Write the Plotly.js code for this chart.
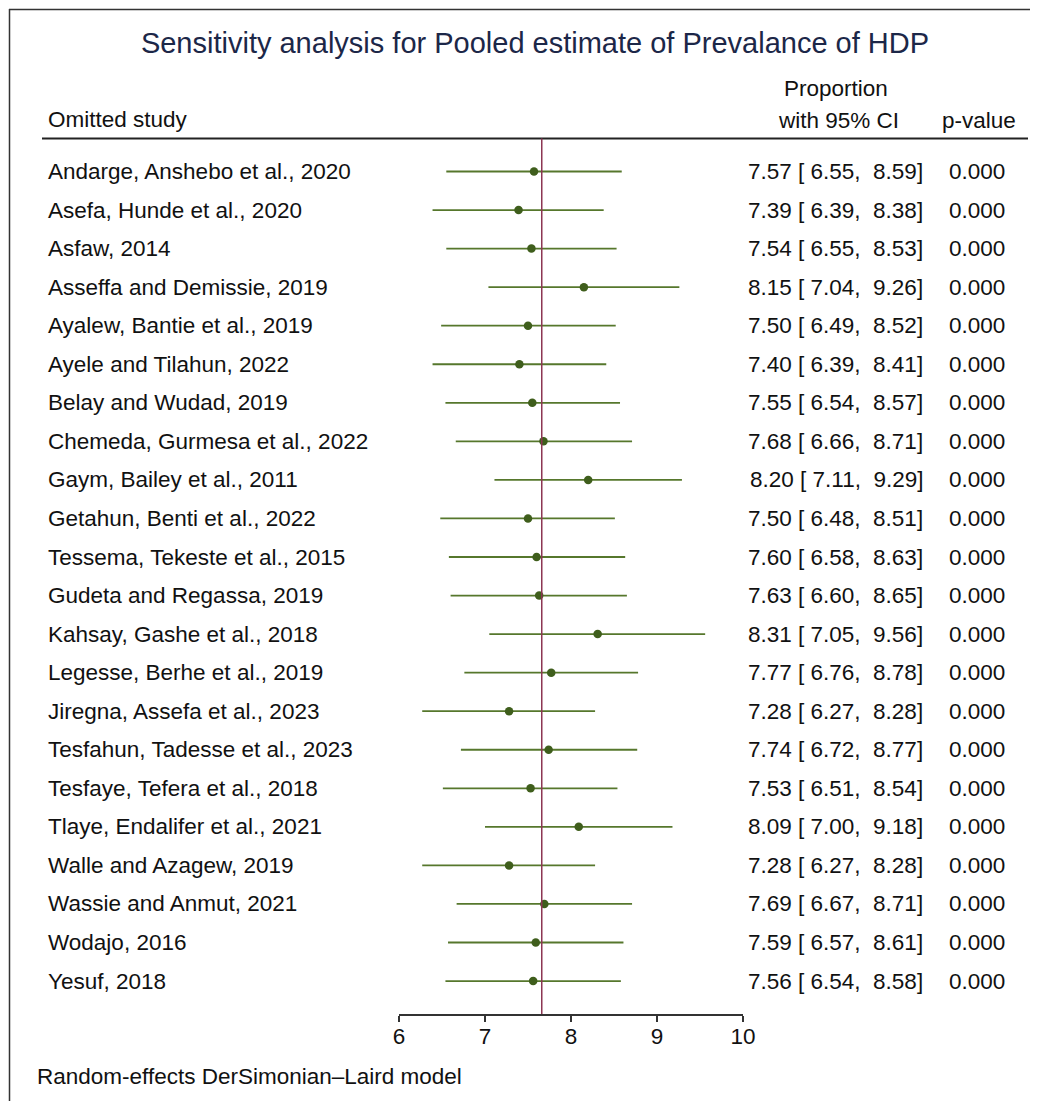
<!DOCTYPE html>
<html>
<head>
<meta charset="utf-8">
<script src="https://cdn.plot.ly/plotly-3.0.1.min.js"></script>
<style>html,body{margin:0;padding:0;background:#fff;}#chart{width:1039px;height:1101px;}</style>
</head>
<body>
<div id="chart"></div>
<script>
// ---- data ----
const studies = [
  "Andarge, Anshebo et al., 2020",
  "Asefa, Hunde et al., 2020",
  "Asfaw, 2014",
  "Asseffa and Demissie, 2019",
  "Ayalew, Bantie et al., 2019",
  "Ayele and Tilahun, 2022",
  "Belay and Wudad, 2019",
  "Chemeda, Gurmesa et al., 2022",
  "Gaym, Bailey et al., 2011",
  "Getahun, Benti et al., 2022",
  "Tessema, Tekeste et al., 2015",
  "Gudeta and Regassa, 2019",
  "Kahsay, Gashe et al., 2018",
  "Legesse, Berhe et al., 2019",
  "Jiregna, Assefa et al., 2023",
  "Tesfahun, Tadesse et al., 2023",
  "Tesfaye, Tefera et al., 2018",
  "Tlaye, Endalifer et al., 2021",
  "Walle and Azagew, 2019",
  "Wassie and Anmut, 2021",
  "Wodajo, 2016",
  "Yesuf, 2018"
];
const estimate = [7.57, 7.39, 7.54, 8.15, 7.50, 7.40, 7.55, 7.68, 8.20, 7.50, 7.60, 7.63, 8.31, 7.77, 7.28, 7.74, 7.53, 8.09, 7.28, 7.69, 7.59, 7.56];
const ciLow    = [6.55, 6.39, 6.55, 7.04, 6.49, 6.39, 6.54, 6.66, 7.11, 6.48, 6.58, 6.60, 7.05, 6.76, 6.27, 6.72, 6.51, 7.00, 6.27, 6.67, 6.57, 6.54];
const ciHigh   = [8.59, 8.38, 8.53, 9.26, 8.52, 8.41, 8.57, 8.71, 9.29, 8.51, 8.63, 8.65, 9.56, 8.78, 8.28, 8.77, 8.54, 9.18, 8.28, 8.71, 8.61, 8.58];
const pValues  = [0,0,0,0,0,0,0,0,0,0,0,0,0,0,0,0,0,0,0,0,0,0];
const pooled = 7.66;
const xTicks = [6, 7, 8, 9, 10];

// ---- layout helpers ----
const W = 1039, H = 1101;
const px = v => v / W;
const py = v => 1 - v / H;
const FONT = "Liberation Sans, Arial, sans-serif";
const fs = 22.5;
const rowIdx = studies.map((_, i) => i);
const fmt = v => v.toFixed(2);
const pad = v => (v < 10 ? " " : "") + fmt(v);

const trace = {
  type: "scatter",
  mode: "markers",
  x: estimate,
  y: rowIdx,
  marker: {size: 8.5, color: "#3f5e1c"},
  error_x: {
    type: "data", symmetric: false,
    array: estimate.map((e, i) => ciHigh[i] - e),
    arrayminus: estimate.map((e, i) => e - ciLow[i]),
    width: 0, thickness: 1.8, color: "#56772c"
  },
  hoverinfo: "skip",
  showlegend: false
};

const annotations = [];
studies.forEach((s, i) => {
  annotations.push({xref: "paper", yref: "y", x: px(46), y: i, xanchor: "left", yanchor: "middle",
    text: s, showarrow: false, font: {family: FONT, size: fs, color: "#111"}});
  annotations.push({xref: "paper", yref: "y", x: px(925), y: i, xanchor: "right", yanchor: "middle",
    text: fmt(estimate[i]) + " [" + pad(ciLow[i]) + ", " + pad(ciHigh[i]) + "]", showarrow: false,
    font: {family: FONT, size: fs, color: "#111"}});
  annotations.push({xref: "paper", yref: "y", x: px(1007), y: i, xanchor: "right", yanchor: "middle",
    text: pValues[i].toFixed(3), showarrow: false, font: {family: FONT, size: fs, color: "#111"}});
});
const hdr = (text, x, y, anchor) => ({xref: "paper", yref: "paper", x: px(x), y: py(y), xanchor: anchor, yanchor: "middle",
  text: text, showarrow: false, font: {family: FONT, size: fs, color: "#111"}});
annotations.push(hdr("Omitted study", 46, 119, "left"));
annotations.push(hdr("Proportion", 836, 89, "center"));
annotations.push(hdr("with 95% CI", 838, 120, "center"));
annotations.push(hdr("p-value", 979, 120, "center"));
annotations.push(hdr("Random-effects DerSimonian\u2013Laird model", 35, 1076, "left"));

const shapes = [
  // frame
  {type: "line", xref: "paper", yref: "paper", x0: px(9), x1: px(1030), y0: py(9.5), y1: py(9.5), line: {color: "#333", width: 1.5}},
  {type: "line", xref: "paper", yref: "paper", x0: px(9.5), x1: px(9.5), y0: py(9), y1: 0, line: {color: "#333", width: 1.5}},
  // header rule
  {type: "line", xref: "paper", yref: "paper", x0: px(42), x1: px(1028), y0: py(138.5), y1: py(138.5), line: {color: "#222", width: 1.8}},
  // pooled reference line
  {type: "line", xref: "x", yref: "y domain", x0: pooled, x1: pooled, y0: 0, y1: 1, layer: "above", line: {color: "#8c3552", width: 1.5}}
];

// row i sits at pixel 171.5 + 38.55*i ; y domain spans pixels 138.5..1014
const rowTop = 171.5, rowStep = 38.55;
const yTopPx = 138.5, yBotPx = 1014;
const layout = {
  width: W, height: H,
  margin: {l: 0, r: 0, t: 0, b: 0},
  paper_bgcolor: "#fff", plot_bgcolor: "#fff",
  title: {text: "Sensitivity analysis for Pooled estimate of Prevalance of HDP",
    xref: "paper", yref: "paper", x: px(535), y: py(43), xanchor: "center", yanchor: "middle",
    font: {family: FONT, size: 29, color: "#1c2748"}},
  xaxis: {
    domain: [px(399), px(743)], range: [6, 10], tickvals: xTicks, ticktext: xTicks.map(String),
    showline: true, linecolor: "#333", linewidth: 1.5, ticks: "outside", ticklen: 6, tickwidth: 1.5, tickcolor: "#333",
    showgrid: false, zeroline: false, fixedrange: true, ticklabelstandoff: -5,
    tickfont: {family: FONT, size: fs, color: "#111"}
  },
  yaxis: {
    domain: [py(yBotPx), py(yTopPx)],
    range: [(yBotPx - rowTop) / rowStep, (yTopPx - rowTop) / rowStep],
    visible: false, showgrid: false, zeroline: false, fixedrange: true
  },
  annotations: annotations,
  shapes: shapes,
  showlegend: false
};

Plotly.newPlot("chart", [trace], layout, {staticPlot: true, displayModeBar: false});
</script>
</body>
</html>
